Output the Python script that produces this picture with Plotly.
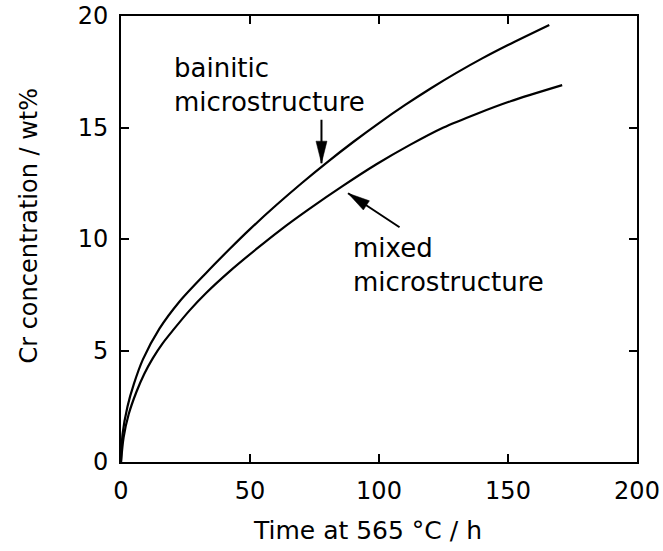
import math
import plotly.graph_objects as go

# Cr concentration (wt%) against holding time at 565 °C (h)
bainitic_t = [0, 0.6, 2.5, 5.0, 8.5, 14.9, 22.7, 33.0, 42.1, 49.8, 60, 70, 80, 90, 100, 110, 120, 130, 140, 150, 166]
bainitic_cr = [0, 1.25, 2.48, 3.5, 4.6, 5.98, 7.2, 8.48, 9.55, 10.42, 11.5, 12.5, 13.45, 14.35, 15.2,
               16.0, 16.75, 17.45, 18.1, 18.7, 19.6]

mixed_t = [0, 1.0, 3.0, 6.0, 9.0, 12.3, 16.0, 20.1, 26.6, 33.0, 42.1, 53.0, 61.5, 73.0, 86.0, 99.0,
           112.0, 125.0, 138.0, 151.0, 171.0]
mixed_cr = [0, 1.1, 2.15, 3.15, 3.95, 4.65, 5.3, 5.9, 6.8, 7.58, 8.55, 9.6, 10.38, 11.35, 12.38, 13.35,
            14.22, 15.0, 15.62, 16.18, 16.9]

x_ticks = [0, 50, 100, 150, 200]
y_ticks = [0, 5, 10, 15, 20]

x_title = "Time at 565 °C / h"
y_title = "Cr concentration / wt%"

# label lines, where the arrow points (data) and the arrow tail offset (px)
bainitic_label = ["bainitic", "microstructure"]
bainitic_tip = (77.7, 13.4)
bainitic_tail = (0, -45)
mixed_label = ["mixed", "microstructure"]
mixed_tip = (88.0, 12.05)
mixed_tail = (53, 35)

FONT = "DejaVu Sans"
INK = "black"

fig = go.Figure()
for tx, cy in ((bainitic_t, bainitic_cr), (mixed_t, mixed_cr)):
    fig.add_trace(go.Scatter(x=tx, y=cy, mode="lines",
                             line=dict(color=INK, width=2.2, shape="spline", smoothing=0.8),
                             showlegend=False, hoverinfo="skip"))

axis_common = dict(
    showgrid=False, zeroline=False, showline=True, linecolor=INK, linewidth=1.8,
    mirror="ticks", ticks="inside", ticklen=8, tickwidth=1.8, tickcolor=INK,
    tickfont=dict(family=FONT, size=24, color=INK),
)
fig.update_xaxes(range=[0, 200], tickvals=x_ticks, ticklabelstandoff=6, **axis_common)
fig.update_yaxes(range=[0, 20], tickvals=y_ticks, ticklabelstandoff=6, **axis_common)

annotations = []
# axis titles
annotations.append(dict(text=x_title, xref="paper", yref="paper", x=0.478, y=0,
                        yshift=-68, xanchor="center", yanchor="middle", showarrow=False,
                        font=dict(family=FONT, size=25, color=INK)))
annotations.append(dict(text=y_title, xref="paper", yref="paper", x=0, y=0.53,
                        xshift=-92, textangle=-90, xanchor="center", yanchor="middle",
                        showarrow=False, font=dict(family=FONT, size=24, color=INK)))


def label_lines(lines, x, y):
    # text lines anchored at their left edge, spaced 34 px apart
    for i, line in enumerate(lines):
        annotations.append(dict(text=line, xref="x", yref="y", x=x, y=y, yshift=-34 * i,
                                xanchor="left", yanchor="middle", showarrow=False,
                                font=dict(family=FONT, size=26, color=INK)))


label_lines(bainitic_label, 19.9, 17.65)
label_lines(mixed_label, 89.3, 9.6)

shapes = []


def arrow(tip, tail, head_len=22, head_w=11):
    # shaft as an annotation line, head as a slim filled triangle at the tip
    annotations.append(dict(text="", xref="x", yref="y", x=tip[0], y=tip[1],
                            ax=tail[0], ay=tail[1], showarrow=True, arrowhead=0,
                            arrowwidth=2, arrowcolor=INK))
    # direction from tip toward tail, y up for pixel-sized shapes
    dx, dy = tail[0], -tail[1]
    n = math.hypot(dx, dy)
    ux, uy = dx / n, dy / n
    px, py = -uy, ux
    bx, by = ux * head_len, uy * head_len
    p1 = (bx + px * head_w / 2, by + py * head_w / 2)
    p2 = (bx - px * head_w / 2, by - py * head_w / 2)
    path = f"M0,0 L{p1[0]:.2f},{p1[1]:.2f} L{p2[0]:.2f},{p2[1]:.2f} Z"
    shapes.append(dict(type="path", xref="x", yref="y", xsizemode="pixel", ysizemode="pixel",
                       xanchor=tip[0], yanchor=tip[1], path=path,
                       fillcolor=INK, line=dict(color=INK, width=0.5)))


arrow(bainitic_tip, bainitic_tail)
arrow(mixed_tip, mixed_tail)

fig.update_layout(
    width=663, height=551,
    margin=dict(l=121, r=26, t=16, b=89, autoexpand=False),
    paper_bgcolor="white", plot_bgcolor="white",
    font=dict(family=FONT, color=INK),
    annotations=annotations, shapes=shapes,
)

fig.write_html("out.html")
